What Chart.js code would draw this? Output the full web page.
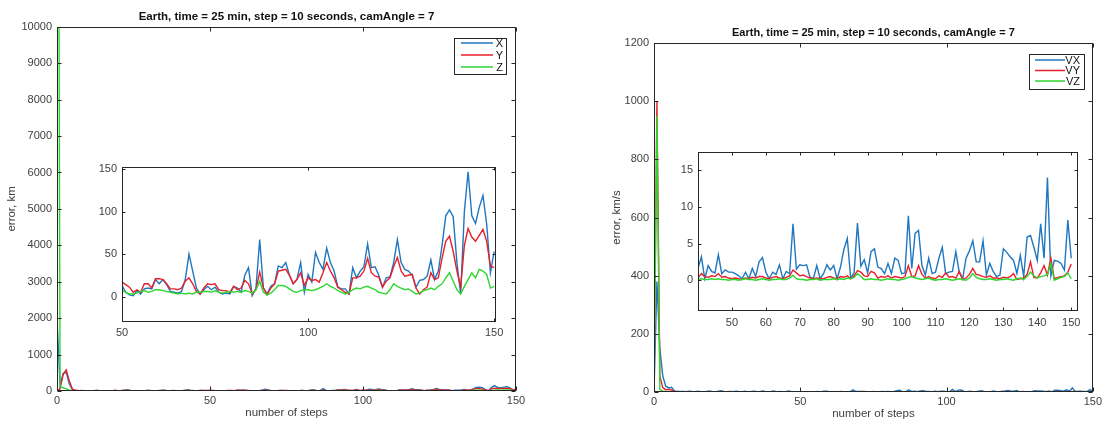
<!DOCTYPE html>
<html>
<head>
<meta charset="utf-8">
<script src="https://cdn.jsdelivr.net/npm/chart.js@4.4.1/dist/chart.umd.min.js"></script>
<style>
  html, body { margin: 0; padding: 0; background: #fff; }
  body { width: 1105px; height: 422px; position: relative; overflow: hidden; }
  canvas { position: absolute; }
</style>
</head>
<body>
<canvas id="posMain" width="530" height="422" style="left:0;top:0"></canvas>
<canvas id="velMain" width="545" height="422" style="left:560px;top:0"></canvas>
<canvas id="posInset" width="420" height="185" style="left:90px;top:155px"></canvas>
<canvas id="velInset" width="445" height="195" style="left:650px;top:140px"></canvas>
<script>
// step index 0..150
const steps = Array.from({length: 151}, (_, i) => i);

// tick values
const mainXTicks = [0, 50, 100, 150];
const posYTicks = [0, 1000, 2000, 3000, 4000, 5000, 6000, 7000, 8000, 9000, 10000];
const velYTicks = [0, 200, 400, 600, 800, 1000, 1200];
const posInsetXTicks = [50, 100, 150];
const posInsetYTicks = [0, 50, 100, 150];
const velInsetXTicks = [50, 60, 70, 80, 90, 100, 110, 120, 130, 140, 150];
const velInsetYTicks = [0, 5, 10, 15];

// position error, km
const errX = [
  2000, 150, 480, 520, 200, 40, 15, 8, 12, 6,
  10, 5, 9, 14, 7, 4, 11, 6, 9, 16,
  8, 12, 25, 30, 14, 6, 9, 5, 8, 12,
  18, 9, 5, 7, 15, 22, 10, 6, 12, 8,
  5, 9, 20, 28, 12, 7, 10, 15, 9, 11,
  13, 5, 2, 1, 7, 3, 9, 10, 9, 20,
  15, 20, 14, 6, 5, 4, 6, 20, 50, 30,
  10, 3, 8, 12, 8, 11, 5, 3, 4, 3,
  12, 10, 5, 25, 34, 1, 10, 67, 10, 3,
  12, 15, 36, 34, 40, 25, 15, 20, 40, 5,
  26, 17, 52, 40, 32, 57, 40, 30, 11, 9,
  9, 3, 34, 22, 30, 35, 62, 34, 35, 25,
  11, 22, 23, 40, 67, 40, 32, 30, 25, 11,
  19, 20, 24, 43, 20, 30, 60, 95, 102, 94,
  40, 3, 100, 147, 95, 86, 105, 119, 85, 28,
  53
];
const errY = [
  0, 60, 450, 580, 280, 60, 20, 12, 10, 8,
  11, 7, 9, 12, 8, 6, 10, 8, 9, 13,
  9, 11, 18, 20, 12, 8, 9, 7, 8, 10,
  14, 9, 7, 8, 12, 16, 10, 8, 11, 9,
  7, 9, 15, 19, 11, 8, 10, 13, 12, 15,
  17, 14, 11, 5, 8, 5, 15, 15, 10, 21,
  21, 20, 15, 9, 9, 8, 10, 18, 22, 15,
  6, 3, 10, 15, 14, 15, 8, 7, 7, 5,
  12, 8, 10, 19, 15, 3, 8, 29, 10, 2,
  10, 15, 30, 31, 32, 25, 15, 20, 28, 13,
  22, 19, 20, 17, 28, 40, 30, 22, 11, 8,
  5, 3, 22, 22, 24, 30, 45, 28, 24, 23,
  11, 18, 22, 35, 46, 30, 24, 25, 26, 10,
  3, 8, 11, 28, 20, 22, 45, 65, 71, 53,
  30, 11, 60, 80, 70, 65, 72, 79, 65, 36,
  34
];
const errZ = [
  30000, 120, 90, 60, 25, 10, 6, 5, 4, 6,
  5, 4, 6, 7, 5, 4, 6, 5, 4, 7,
  6, 5, 8, 9, 6, 5, 4, 5, 6, 5,
  7, 6, 4, 5, 6, 8, 6, 5, 4, 6,
  5, 6, 7, 8, 6, 5, 4, 6, 7, 8,
  7, 5, 3, 3, 4, 6, 7, 5, 6, 8,
  8, 7, 6, 5, 4, 3, 4, 3, 4, 3,
  5, 5, 6, 6, 5, 7, 5, 4, 5, 6,
  5, 6, 5, 7, 6, 4, 8, 18, 5, 2,
  4, 8, 13, 13, 12, 9, 6, 5, 7, 8,
  8, 7, 8, 10, 12, 15, 12, 10, 7, 5,
  3, 5, 8, 10, 9, 11, 12, 10, 8, 5,
  4, 3, 8, 15, 12, 10, 8, 9, 6, 3,
  4, 7, 8, 10, 8, 12, 15, 22, 28, 18,
  8, 3, 12, 20, 28, 22, 32, 30, 26, 10,
  12
];

// velocity error, km/s
const errVX = [
  0, 380, 150, 55, 20, 14, 16, 4, 2.5, 1.8,
  2.2, 1.0, 3.0, 1.5, 0.8, 2.6, 1.2, 0.5, 1.9, 3.3,
  1.1, 0.6, 2.4, 4.0, 1.3, 0.7, 2.0, 1.0, 3.1, 1.6,
  0.4, 2.3, 1.2, 0.9, 2.8, 1.5, 0.6, 3.4, 1.8, 1.0,
  1.6, 3.2, 0.2, 2.0, 1.2, 1.0, 3.5, 0.9, 1.4, 1.1,
  1.1, 0.9, 0.6, 0.2, 1.1, 0.2, 1.6, 0.5, 2.5, 3.1,
  1.1, 0.2, 1.1, 0.8, 2.1, 0.2, 1.2, 0.9, 7.7, 1.5,
  2.1, 2.0, 2.1, 0.4, 0.2, 2.0, 0.2, 0.9, 2.1, 1.4,
  2.0, 0.2, 1.8, 4.2, 5.7, 0.3, 1.0, 7.8, 1.9, 2.8,
  1.0, 3.9, 4.3, 1.8, 1.6, 0.9, 2.3, 0.9, 3.0, 2.7,
  0.9, 1.0, 8.8, 1.6, 6.4, 6.8, 2.0, 0.7, 3.0, 0.9,
  1.1, 3.0, 4.5, 0.9, 1.1, 1.2, 3.9, 1.1, 0.2, 3.0,
  4.0, 5.4, 2.5, 2.5, 5.4, 0.7, 2.3, 1.2, 0.5, 0.7,
  4.3, 3.8, 3.2, 2.7, 0.9, 3.4, 0.5, 5.9, 6.1, 4.5,
  2.7, 7.7, 3.0, 14.0, 0.6, 2.7, 2.6, 2.3, 1.4, 8.2,
  3.0
];
const errVY = [
  0, 1000, 55, 15, 8, 9, 7, 2, 1.0, 0.6,
  0.5, 0.4, 0.7, 0.3, 0.5, 0.6, 0.4, 0.3, 0.5, 0.8,
  0.4, 0.3, 0.6, 0.9, 0.5, 0.3, 0.4, 0.5, 0.7, 0.4,
  0.3, 0.5, 0.4, 0.3, 0.6, 0.5, 0.3, 0.7, 0.5, 0.4,
  0.3, 0.9, 0.5, 0.4, 0.6, 0.5, 0.9, 0.4, 0.5, 0.3,
  0.2, 0.3, 0.2, 0.1, 0.3, 0.2, 0.4, 0.3, 0.5, 0.5,
  0.3, 0.2, 0.4, 0.5, 0.3, 0.2, 0.4, 0.6, 1.4, 1.0,
  0.6, 0.7, 0.5, 0.3, 0.2, 0.3, 0.2, 0.2, 0.4, 0.5,
  0.3, 0.2, 0.5, 0.4, 0.6, 0.2, 0.6, 1.3, 1.1, 0.6,
  0.5, 1.2, 1.0, 0.3, 0.5, 0.4, 0.6, 0.3, 0.5, 0.4,
  0.3, 0.5, 2.0, 0.5, 0.6, 2.0, 0.8, 0.3, 0.5, 0.3,
  0.2, 0.6, 0.4, 1.0, 0.4, 0.5, 0.3, 1.2, 0.1, 0.3,
  0.8, 1.6, 0.8, 0.7, 0.5, 0.4, 0.6, 0.3, 0.3, 0.2,
  0.4, 0.3, 0.5, 0.9, 0.1, 0.2, 0.3, 0.8, 2.5, 0.4,
  0.3, 1.0, 2.0, 0.7, 3.0, 0.2, 0.4, 0.5, 0.6, 1.1,
  2.2
];
const errVZ = [
  0, 950, 8, 3, 1.5, 1.0, 0.8, 0.4, 0.3, 0.2,
  0.2, 0.1, 0.3, 0.2, 0.1, 0.2, 0.3, 0.1, 0.2, 0.2,
  0.1, 0.2, 0.3, 0.2, 0.1, 0.2, 0.1, 0.2, 0.3, 0.1,
  0.2, 0.1, 0.2, 0.3, 0.2, 0.1, 0.2, 0.2, 0.1, 0.2,
  0.1, 0.2, 0.1, 0.1, 0.2, 0.1, 0.2, 0.1, 0.1, 0.0,
  0.1, 0.1, 0.0, 0.1, 0.2, 0.1, 0.1, 0.0, 0.1, 0.2,
  0.1, 0.0, 0.1, 0.1, 0.2, 0.1, 0.1, 0.3, 0.7, 0.2,
  0.1, 0.1, 0.0, 0.1, 0.1, 0.2, 0.0, 0.1, 0.1, 0.1,
  0.2, 0.1, 0.2, 0.1, 0.3, 0.2, 0.4, 0.9, 0.5, 0.1,
  0.1, 0.2, 0.1, 0.1, 0.0, 0.1, 0.2, 0.1, 0.1, 0.0,
  0.1, 0.2, 0.4, 0.5, 0.3, 0.2, 0.1, 0.2, 0.3, 0.1,
  0.0, 0.1, 0.1, 0.2, 0.1, 0.0, 0.1, 0.2, 0.1, 0.0,
  0.3, 0.9, 0.4, 0.2, 0.1, 0.1, 0.2, 0.1, 0.0, 0.1,
  0.1, 0.2, 0.1, 0.0, 0.2, 0.3, 0.1, 0.5, 1.1, 0.6,
  0.3, 0.5, 0.6, 0.8, 2.3, 0.0, 0.2, 0.4, 0.5, 1.0,
  0.2
];

const titleText = 'Earth, time = 25 min, step = 10 seconds, camAngle = 7';
const FONT = '"Liberation Sans", Arial, Helvetica, sans-serif';
const INK = '#262626';
const LABEL = '#404040';
const BLUE = '#1f77c0', RED = '#e8202a', GREEN = '#2fd62f';

// MATLAB-ish box: white plot area, inward ticks on all sides, optional legend
const frame = {
  id: 'frame',
  beforeDraw(chart, args, o) {
    if (!o.fill) return;
    const {ctx, chartArea: a} = chart;
    ctx.save();
    ctx.fillStyle = '#fff';
    ctx.fillRect(a.left, a.top, a.right - a.left, a.bottom - a.top);
    ctx.restore();
  },
  afterDatasetsDraw(chart, args, o) {
    const {ctx, chartArea: a, scales: {x, y}} = chart;
    const t = o.tick || 4;
    const L = Math.round(a.left) + 0.5, R = Math.round(a.right) - 0.5;
    const T = Math.round(a.top) + 0.5, B = Math.round(a.bottom) - 0.5;
    ctx.save();
    ctx.strokeStyle = INK;
    ctx.lineWidth = 1;
    ctx.beginPath();
    x.ticks.forEach(k => {
      const p = Math.round(x.getPixelForValue(k.value)) + 0.5;
      ctx.moveTo(p, B); ctx.lineTo(p, B - t);
      ctx.moveTo(p, T); ctx.lineTo(p, T + t);
    });
    y.ticks.forEach(k => {
      const p = Math.round(y.getPixelForValue(k.value)) + 0.5;
      ctx.moveTo(L, p); ctx.lineTo(L + t, p);
      ctx.moveTo(R, p); ctx.lineTo(R - t, p);
    });
    ctx.stroke();
    ctx.strokeRect(L, T, R - L, B - T);

    const lg = o.legend;
    if (lg) {
      ctx.fillStyle = '#fff';
      ctx.fillRect(lg.x, lg.y, lg.w, lg.h);
      ctx.strokeStyle = INK;
      ctx.strokeRect(lg.x + 0.5, lg.y + 0.5, lg.w, lg.h);
      ctx.font = '11px ' + FONT;
      ctx.textAlign = 'right';
      ctx.textBaseline = 'middle';
      chart.data.datasets.forEach((d, i) => {
        const yy = lg.rows[i];
        ctx.strokeStyle = d.borderColor;
        ctx.lineWidth = 1.5;
        ctx.beginPath();
        ctx.moveTo(lg.x1, yy); ctx.lineTo(lg.x2, yy);
        ctx.stroke();
        ctx.fillStyle = '#111';
        ctx.fillText(d.label, lg.tx, yy + 0.5);
      });
    }
    ctx.restore();
  }
};

function series(labels, arrays) {
  const colors = [BLUE, RED, GREEN];
  return arrays.map((arr, i) => ({
    label: labels[i],
    data: steps.map((s, j) => ({x: s, y: arr[j]})),
    borderColor: colors[i],
    borderWidth: 1.4,
    pointRadius: 0,
    tension: 0,
    order: 2 - i
  }));
}

function axis(cfg) {
  const isX = cfg.dir === 'x';
  return {
    type: 'linear',
    min: cfg.min,
    max: cfg.max,
    grid: {display: false, drawTicks: false},
    border: {display: false},
    ticks: {
      autoSkip: false,
      maxRotation: 0,
      padding: cfg.pad,
      color: LABEL,
      font: {family: FONT, size: 11},
      callback: v => String(v)
    },
    afterBuildTicks: scale => { scale.ticks = cfg.ticks.map(v => ({value: v})); },
    afterFit: scale => { if (isX) scale.height = cfg.size; else scale.width = cfg.size; },
    title: cfg.title ? {
      display: true,
      text: cfg.title,
      color: LABEL,
      font: {family: FONT, size: 11.5},
      padding: cfg.titlePad
    } : {display: false}
  };
}

function makeChart(id, datasets, o) {
  return new Chart(document.getElementById(id), {
    type: 'line',
    data: {datasets},
    options: {
      responsive: false,
      animation: false,
      events: [],
      layout: {padding: o.padding},
      scales: {x: axis(o.x), y: axis(o.y)},
      plugins: {
        legend: {display: false},
        tooltip: {enabled: false},
        title: o.title ? {
          display: true,
          text: titleText,
          fullSize: false,
          color: '#111',
          font: {family: FONT, size: o.title.size, weight: 'bold'},
          padding: {top: o.title.top, bottom: o.title.bottom}
        } : {display: false},
        frame: {fill: o.fill, tick: o.tick, legend: o.legend}
      }
    },
    plugins: [frame]
  });
}

const posSets = series(['X', 'Y', 'Z'], [errX, errY, errZ]);
const velSets = series(['VX', 'VY', 'VZ'], [errVX, errVY, errVZ]);

makeChart('posMain', posSets, {
  padding: {left: 0, right: 14, top: 0, bottom: 0},
  title: {size: 11.5, top: 10, bottom: 3},
  tick: 4,
  x: {dir: 'x', min: 0, max: 150, ticks: mainXTicks, size: 31, pad: 3,
      title: 'number of steps', titlePad: {top: 0, bottom: 2.2}},
  y: {dir: 'y', min: 0, max: 10000, ticks: posYTicks, size: 57, pad: 5,
      title: 'error, km', titlePad: {top: 5.2, bottom: 0}},
  legend: {x: 454, y: 38, w: 52, h: 36, x1: 461, x2: 493, tx: 503, rows: [43, 55, 67]}
});

makeChart('velMain', velSets, {
  padding: {left: 45, right: 10, top: 0, bottom: 0},
  title: {size: 11, top: 26.4, bottom: 3.4},
  tick: 4,
  x: {dir: 'x', min: 0, max: 150, ticks: mainXTicks, size: 30, pad: 3,
      title: 'number of steps', titlePad: {top: 0, bottom: 0.8}},
  y: {dir: 'y', min: 0, max: 1200, ticks: velYTicks, size: 49, pad: 5,
      title: 'error, km/s', titlePad: {top: 5, bottom: 0}},
  legend: {x: 469, y: 54, w: 55, h: 35, x1: 475, x2: 505, tx: 520, rows: [60, 70.5, 81]}
});

makeChart('posInset', posSets, {
  padding: {left: 0, right: 14, top: 8, bottom: 0},
  fill: true,
  tick: 3,
  x: {dir: 'x', min: 50, max: 150.5, ticks: posInsetXTicks, size: 18, pad: 4},
  y: {dir: 'y', min: -30, max: 153, ticks: posInsetYTicks, size: 32, pad: 5}
});

makeChart('velInset', velSets, {
  padding: {left: 0, right: 17, top: 12, bottom: 0},
  fill: true,
  tick: 3,
  x: {dir: 'x', min: 40, max: 152, ticks: velInsetXTicks, size: 24, pad: 5},
  y: {dir: 'y', min: -4.2, max: 17.5, ticks: velInsetYTicks, size: 48, pad: 5}
});
</script>
</body>
</html>
